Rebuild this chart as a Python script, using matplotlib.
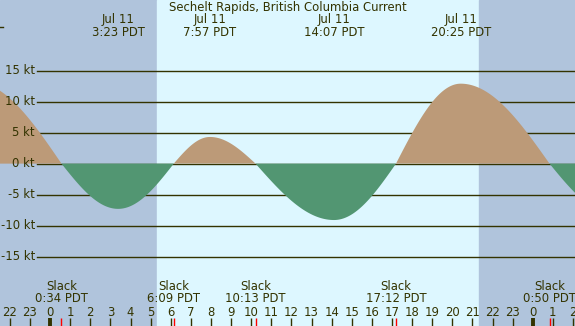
import numpy as np
import matplotlib
matplotlib.use('Agg')
import matplotlib.pyplot as plt

# Eventos de corrente (horas desde 0:00 de 11 de julho, nós)
event_hours = [-3.8, 0.567, 3.383, 6.15, 7.95, 10.217, 14.117, 17.2, 20.417, 24.833, 28.0]
event_speed = [13.2, 0.0, -7.3, 0.0, 4.3, 0.0, -9.1, 0.0, 12.9, 0.0, -8.0]

max_labels = ['3:23 PDT', '7:57 PDT', '14:07 PDT', '20:25 PDT']
max_hours = [3.383, 7.95, 14.117, 20.417]
slack_labels = ['0:34 PDT', '6:09 PDT', '10:13 PDT', '17:12 PDT', '0:50 PDT']
slack_hours = [0.567, 6.15, 10.217, 17.2, 24.833]
hour_ticks = list(range(-2, 27))
hour_labels = [str(h % 24) for h in hour_ticks]
kt_levels = [15, 10, 5, 0, -5, -10, -15]
sunrise, sunset = 5.32, 21.33

dark_bg = '#B0C4DC'
light_bg = '#DDF7FF'
flood_color = '#BC9A78'
ebb_color = '#529672'
text_color = '#333300'

W, H = 575, 326
x0, x1 = -2.49, 26.1
y0, y1 = -26.2, 26.4
fs = 8.4

# Quartos de senoide entre máximo e estofa
t = np.linspace(x0, x1, 3000)
v = np.zeros_like(t)
for i in range(len(event_hours) - 1):
    ta, tb = event_hours[i], event_hours[i + 1]
    va, vb = event_speed[i], event_speed[i + 1]
    m = (t >= ta) & (t <= tb)
    f = (t[m] - ta) / (tb - ta)
    if va == 0:
        v[m] = vb * np.sin(np.pi / 2 * f)
    else:
        v[m] = va * np.cos(np.pi / 2 * f)

plt.rcParams['font.family'] = ['DejaVu Sans']
fig = plt.figure(figsize=(W / 100, H / 100), dpi=100)
ax = fig.add_axes([0, 0, 1, 1])
ax.set_xlim(x0, x1)
ax.set_ylim(y0, y1)
ax.axis('off')

ax.axvspan(x0, sunrise, color=dark_bg, zorder=0)
ax.axvspan(sunrise, sunset, color=light_bg, zorder=0)
ax.axvspan(sunset, x1, color=dark_bg, zorder=0)

ax.fill_between(t, 0, v, where=v >= 0, color=flood_color, lw=0, zorder=2, interpolate=True)
ax.fill_between(t, 0, v, where=v <= 0, color=ebb_color, lw=0, zorder=2, interpolate=True)

# Linhas de grade e rótulos em kt
for k in kt_levels:
    ax.axhline(k, xmin=37 / W, xmax=1, color=text_color, lw=1, zorder=1)
    ax.text(35 / W, k, f'{k} kt', transform=ax.get_yaxis_transform(), ha='right', va='center',
            fontsize=fs, color=text_color, zorder=4)

xt = ax.get_xaxis_transform()


def ypx(p):
    return 1 - p / H


# pequeno traço no canto superior esquerdo
ax.plot([0, 3 / W], [ypx(27), ypx(27)], transform=ax.transAxes, color=text_color, lw=1)

ax.text(0.5, ypx(7), 'Sechelt Rapids, British Columbia Current', transform=ax.transAxes,
        ha='center', va='center', fontsize=fs, color=text_color)
for h, lab in zip(max_hours, max_labels):
    ax.text(h, ypx(19), 'Jul 11', transform=xt, ha='center', va='center', fontsize=fs, color=text_color)
    ax.text(h, ypx(32), lab, transform=xt, ha='center', va='center', fontsize=fs, color=text_color)
for h, lab in zip(slack_hours, slack_labels):
    ax.text(h, ypx(287), 'Slack', transform=xt, ha='center', va='center', fontsize=fs, color=text_color)
    ax.text(h, ypx(299), lab, transform=xt, ha='center', va='center', fontsize=fs, color=text_color)

# Marcas das horas
for h, lab in zip(hour_ticks, hour_labels):
    ax.text(h, ypx(312), lab, transform=xt, ha='center', va='center', fontsize=fs, color=text_color)
    lw = 2.8 if h % 24 == 0 else 1
    ax.plot([h, h], [ypx(318), ypx(326)], transform=xt, color=text_color, lw=lw, solid_capstyle='butt')
for h in slack_hours:
    ax.plot([h, h], [ypx(318), ypx(326)], transform=xt, color='red', lw=1, solid_capstyle='butt')

fig.savefig('out.png', dpi=100)
